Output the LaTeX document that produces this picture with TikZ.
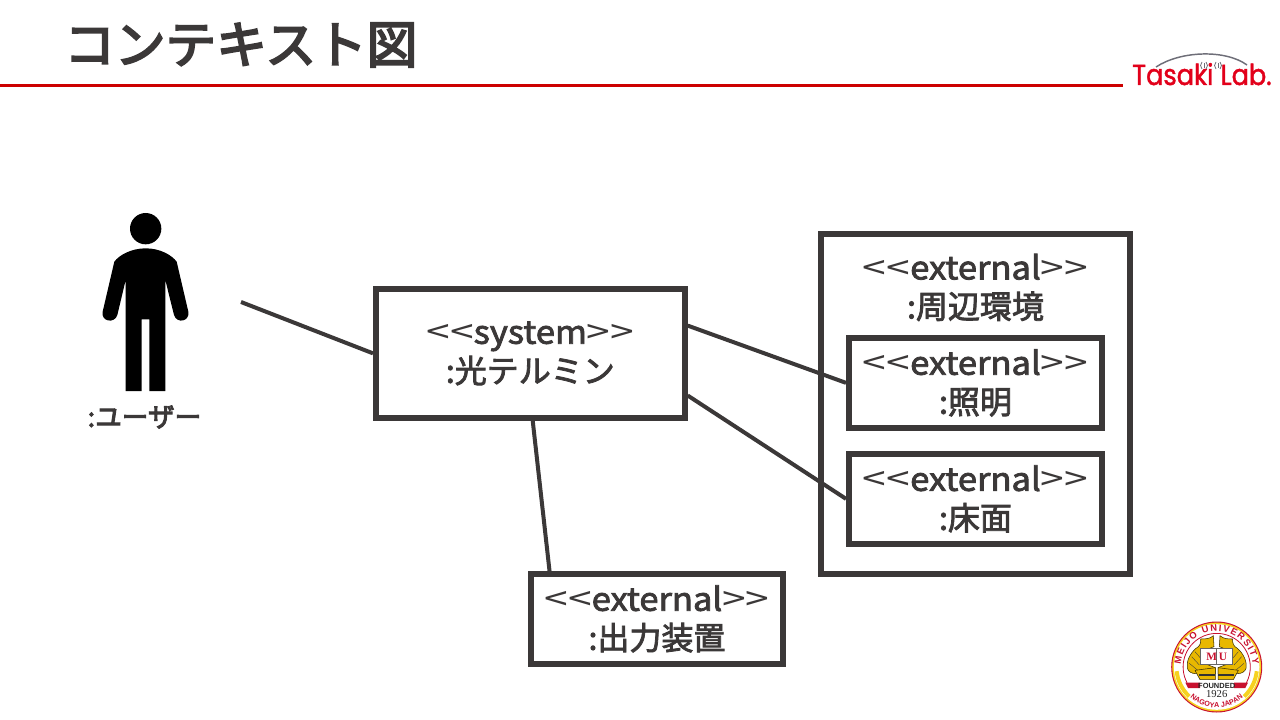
\documentclass[tikz,border=0pt]{standalone}
\usepackage{fontspec}
\usepackage{graphicx}
\usetikzlibrary{decorations.text,calc}
\setmainfont{Noto Sans CJK JP}
\newfontfamily\latjp[FakeStretch=1.08]{Noto Sans CJK JP}
\newfontfamily\anglejp[FakeStretch=1.33]{Noto Sans CJK JP}
\newfontfamily\logofont[FakeBold=1.6]{Poppins}
\newfontfamily\sealfont{Liberation Sans}
\newfontfamily\sealserif{Liberation Serif}
\newcommand{\weight}[1]{\special{pdf:code 2 Tr #1 w}}
\newcommand{\noweight}{\special{pdf:code 0 Tr}}
\newcommand{\stereo}[1]{\noweight{\anglejp<<}\weight{0.6}{\latjp #1}\noweight{\anglejp>>}\weight{0.6}}
\definecolor{ink}{HTML}{3B3838}
\definecolor{rulered}{HTML}{CC0000}
\definecolor{logored}{HTML}{E2001A}
\definecolor{logogray}{HTML}{6E6E78}
\definecolor{sealred}{HTML}{C8102E}
\definecolor{sealgold}{HTML}{E8B800}
\definecolor{sealyellow}{HTML}{F6D21F}
\tikzset{
  umlbox/.style={draw=ink,line width=4.5pt,fill=white,text=ink,align=center,inner sep=0pt,
    font=\fontsize{24}{29.25}\selectfont},
  umltext/.style={text=ink,align=center,inner sep=0pt,font=\fontsize{24}{29.25}\selectfont},
  link/.style={draw=ink,line width=3pt},
  fishpart/.style={fill=sealgold,draw=black!75!sealgold,line width=.4pt,line join=round},
}
\begin{document}
\begin{tikzpicture}[x=.75pt,y=-.75pt]
\useasboundingbox (0,0) rectangle (1280,720);
% header
\node[anchor=west,inner sep=0pt,text=ink,font=\fontsize{38}{40}\selectfont] (title) at (64,45) {\weight{1.5}コンテキスト図};
\coordinate (ruleL) at (0,85.3);
\coordinate (ruleR) at (1123,85.3);
\draw[rulered,line width=2.25pt] (ruleL) -- (ruleR);
% logo
\node[anchor=base west,inner sep=0pt,text=logored,font=\logofont\fontsize{22.5}{24}\selectfont] (logo) at (1132,85) {\resizebox{104.5pt}{16.5pt}{Tasaki\hspace{.28em}Lab.}};
\draw[logogray,line width=1.1pt] (1156,67) .. controls (1180,51) and (1225,49) .. (1247,65);
\foreach \cx in {1204,1218}{
  \draw[logogray,line width=.6pt] (\cx-2,62) .. controls (\cx-4,64) and (\cx-4,67) .. (\cx-2,69);
  \draw[logogray,line width=.6pt] (\cx+2,62) .. controls (\cx+4,64) and (\cx+4,67) .. (\cx+2,69);
  \draw[logogray,line width=.6pt] (\cx,63) -- (\cx,68);
}
% actor
\begin{scope}[shift={(80,200)},x=.25pt,y=-.25pt]
  \fill[black] (197,86) circle[radius=47];
  \fill[black] (197,145) .. controls (240,145) and (275,165) .. (290,185)
    -- (325,335) .. controls (330,365) and (290,372) .. (282,345)
    -- (256,240) -- (256,573) -- (208,573) -- (208,358) -- (185,358) -- (185,573) -- (137,573) -- (137,240)
    -- (112,345) .. controls (104,372) and (62,365) .. (68,335)
    -- (103,185) .. controls (118,165) and (154,145) .. (197,145) -- cycle;
\end{scope}
\coordinate (userEnd) at (241,302);
\node[text=ink,inner sep=0pt,font=\fontsize{20}{22}\selectfont] (userlabel) at (144.5,417) {\weight{0.75}:ユーザー};
% boxes
\node[umlbox,minimum width=308.7*.75pt,minimum height=128.7*.75pt] (sys) at (530.35,353.35) {\stereo{system}\\\weight{0.6}:光テルミン};
\node[draw=ink,line width=4.5pt,fill=white,inner sep=0pt,minimum width=308.4*.75pt,minimum height=339.7*.75pt] (env) at (975.5,403.85) {};
\node[umltext] (envlabel) at (975.5,287.5) {\stereo{external}\\\weight{0.6}:周辺環境};
\node[umlbox,minimum width=253*.75pt,minimum height=89.7*.75pt] (light) at (975.5,382.85) {\stereo{external}\\\weight{0.6}:照明};
\node[umlbox,minimum width=253*.75pt,minimum height=89.7*.75pt] (floorb) at (975.5,498.85) {\stereo{external}\\\weight{0.6}:床面};
\node[umlbox,minimum width=252*.75pt,minimum height=89.7*.75pt] (outp) at (657,618.85) {\stereo{external}\\\weight{0.6}:出力装置};
% connectors
\draw[link] (userEnd) -- (sys.west);
\draw[link] (sys.10.74) -- (light.west);
\draw[link] (sys.-15.84) -- (floorb.west);
\draw[link] (sys.-88.9) -- (outp.156.3);
% seal
\coordinate (seal) at (1216.7,667);
\fill[sealred] (seal) circle[radius=45.5];
\fill[sealyellow] (seal) circle[radius=44.4];
\fill[white] (seal) circle[radius=42.8];
\draw[sealyellow,line width=3pt] (seal) ++(186:30.2pt) arc[start angle=186,end angle=227,radius=30.2pt];
\draw[sealyellow,line width=3pt] (seal) ++(-6:30.2pt) arc[start angle=-6,end angle=-47,radius=30.2pt];
\draw[sealred,line width=.6pt] (seal) ++(208:25.2pt) arc[start angle=208,end angle=-28,radius=25.2pt];
\begin{scope}[shift={(1160,615)},x=.25pt,y=-.25pt]
  \foreach \m in {1,-1}{
    \begin{scope}[xshift=42.5pt,xscale=\m,xshift=-42.5pt]
      \path[fishpart] (160,62) .. controls (150,72) and (135,72) .. (122,72) .. controls (124,85) and (118,95) .. (108,100) .. controls (90,115) and (78,140) .. (82,160) .. controls (85,170) and (95,176) .. (108,176) -- (166,176) -- (166,158) -- (132,145) .. controls (118,125) and (130,105) .. (162,95) -- cycle;
      \path[fishpart] (105,166) -- (166,158) -- (166,194) -- (120,194) -- cycle;
      \draw[black!75,line width=.3pt] (95,125) -- (118,150) (88,145) -- (112,165) (105,110) -- (122,130);
      \fill[black!80] (118,176) rectangle (166,184);
    \end{scope}
  }
  \fill[white,draw=black!60,line width=.4pt] (122,100) rectangle (218,148);
  \draw[black!60,line width=.4pt] (170,100) -- (170,148);
  \node[text=sealred,inner sep=0pt,font=\sealserif\bfseries\fontsize{8.5}{9}\selectfont] (sealbook) at (170,125) {M\,U};
  \fill[sealred] (76,203) -- (120,203) -- (120,219) -- (84,219) -- cycle;
  \fill[sealred] (264,203) -- (222,203) -- (222,219) -- (256,219) -- cycle;
  \node[text=black!85,inner sep=0pt,font=\sealfont\bfseries\fontsize{5.6}{5.6}\selectfont] (sealfounded) at (170,213) {FOUNDED};
  \node[text=black!85,inner sep=0pt,font=\sealserif\fontsize{8}{8}\selectfont] (sealyear) at (170,238) {1926};
\end{scope}
\path[decorate,decoration={text along path,text align={fit to path},text={|\sealfont\bfseries\fontsize{7}{8}\selectfont\color{sealred}|MEIJO UNIVERSITY}}]
  (seal) ++(176:27pt) arc[start angle=176,end angle=4,radius=27pt];
\path[decorate,decoration={text along path,text align=center,text={|\sealfont\bfseries\fontsize{5.4}{6}\selectfont\color{sealred}|NAGOYA JAPAN}}]
  (seal) ++(222:30.5pt) arc[start angle=222,end angle=318,radius=30.5pt];
\end{tikzpicture}
\end{document}
